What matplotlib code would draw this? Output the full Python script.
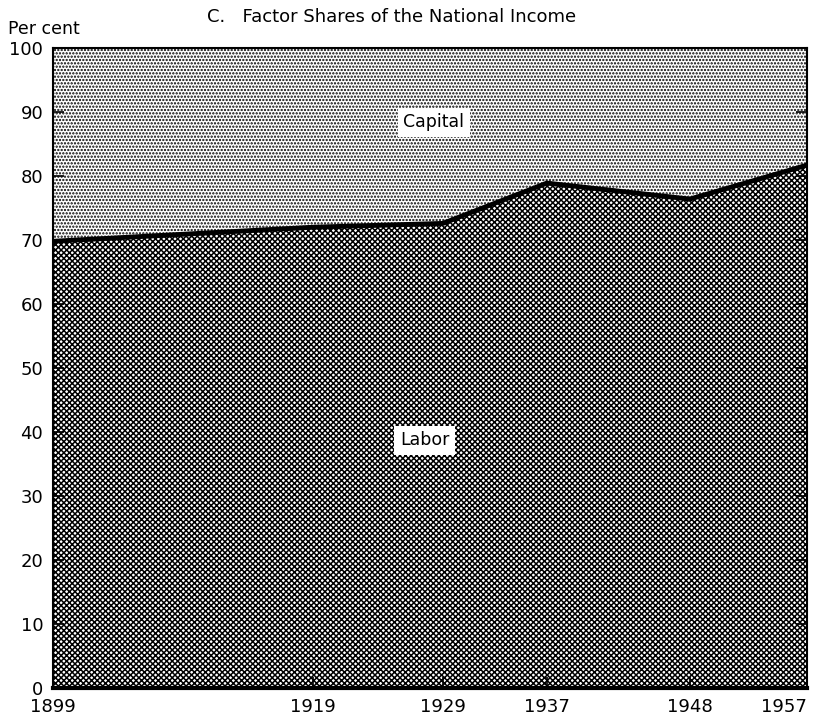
import matplotlib
matplotlib.use("Agg")
import matplotlib.pyplot as plt

years = [1899, 1919, 1929, 1937, 1948, 1957]
labor = [69.8, 72.0, 72.6, 78.9, 76.4, 81.7]
top = [100] * len(years)
xticks = [1899, 1919, 1929, 1937, 1948, 1957]
yticks = list(range(0, 101, 10))

plt.rcParams['font.family'] = 'DejaVu Sans'
plt.rcParams['hatch.linewidth'] = 1.1

fig = plt.figure(figsize=(8.15, 7.18), dpi=100)
ax = fig.add_axes([0.065, 0.042, 0.925, 0.891])

# capital (dots) above, labor (cross-hatch) below
ax.fill_between(years, labor, top, facecolor='white', edgecolor='black',
                hatch='.....', linewidth=0)
ax.fill_between(years, 0, labor, facecolor='white', edgecolor='black',
                hatch='xxxxxx', linewidth=0)
ax.plot(years, labor, color='black', lw=3.5, solid_joinstyle='miter')

ax.text(1927.6, 38.7, 'Labor', fontsize=12.5, ha='center', va='center',
        bbox=dict(facecolor='white', edgecolor='none', pad=4))
ax.text(1928.3, 88.4, 'Capital', fontsize=12.5, ha='center', va='center',
        bbox=dict(facecolor='white', edgecolor='none', pad=4))

ax.set_xlim(1899, 1957)
ax.set_ylim(0, 100)
ax.set_xticks(xticks)
ax.set_yticks(yticks)
ax.tick_params(direction='in', length=8, width=1.2, labelsize=13,
               right=True, left=True)
ax.tick_params(axis='x', pad=7)
ax.tick_params(axis='y', pad=7)
for s in ax.spines.values():
    s.set_linewidth(1.5)
ax.spines['bottom'].set_linewidth(3)

fig.canvas.draw()
# last year label sits flush with the right edge
ax.get_xticklabels()[-1].set_horizontalalignment('right')

fig.text(0.48, 0.976, 'C.   Factor Shares of the National Income',
         fontsize=13, ha='center', va='center')
fig.text(0.01, 0.96, 'Per cent', fontsize=12.5, ha='left', va='center')

fig.savefig('out.png', dpi=100)
